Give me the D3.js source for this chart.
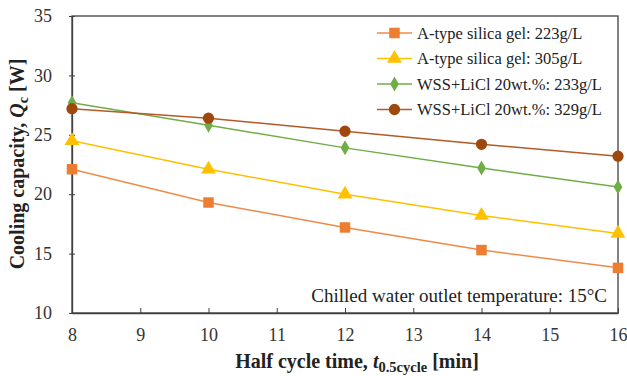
<!DOCTYPE html>
<html>
<head>
<meta charset="utf-8">
<script src="https://cdn.jsdelivr.net/npm/d3@7"></script>
<style>
  body { margin: 0; background: #fff; }
  svg text { font-family: "Liberation Serif", "Times New Roman", serif; }
</style>
</head>
<body>
<div id="svg-container"></div>
<script>
// chart data
const halfCycle = [8, 10, 12, 14, 16];
const seriesNames = [
  "A-type silica gel: 223g/L",
  "A-type silica gel: 305g/L",
  "WSS+LiCl 20wt.%: 233g/L",
  "WSS+LiCl 20wt.%: 329g/L"
];
const silica223 = [22.1, 19.3, 17.2, 15.3, 13.8];
const silica305 = [24.5, 22.1, 20.0, 18.2, 16.7];
const wss233 = [27.7, 25.8, 23.9, 22.2, 20.6];
const wss329 = [27.2, 26.4, 25.3, 24.2, 23.2];
const xTicks = [8, 9, 10, 11, 12, 13, 14, 15, 16];
const yTicks = [10, 15, 20, 25, 30, 35];

const width = 627, height = 376;
const margin = { top: 16, right: 9, bottom: 63, left: 72 };
const serif = "'Liberation Serif', 'Times New Roman', serif";

const svg = d3.select("#svg-container").append("svg")
  .attr("width", width).attr("height", height)
  .attr("font-family", serif);

const x = d3.scaleLinear().domain([8, 16]).range([margin.left, width - margin.right]);
const y = d3.scaleLinear().domain([10, 35]).range([height - margin.bottom, margin.top]);

const series = [
  { name: seriesNames[0], values: silica223, color: "#ED7D31", line: "#F08A48", shape: d3.symbolSquare, size: 110 },
  { name: seriesNames[1], values: silica305, color: "#FFC000", line: "#FFC000", shape: d3.symbolTriangle, size: 95 },
  { name: seriesNames[2], values: wss233, color: "#70AD47", line: "#70AD47", shape: d3.symbolDiamond, size: 65 },
  { name: seriesNames[3], values: wss329, color: "#9E480E", line: "#B35A26", shape: d3.symbolCircle, size: 100 }
];

// frame
svg.append("rect")
  .attr("x", margin.left).attr("y", margin.top)
  .attr("width", width - margin.left - margin.right)
  .attr("height", height - margin.top - margin.bottom)
  .attr("fill", "none").attr("stroke", "#404040").attr("stroke-width", 1.3);

// axes
const xAxis = svg.append("g")
  .attr("transform", `translate(0,${height - margin.bottom})`)
  .call(d3.axisBottom(x).tickValues(xTicks).tickSizeInner(-5).tickSizeOuter(0).tickPadding(15));
const yAxis = svg.append("g")
  .attr("transform", `translate(${margin.left},0)`)
  .call(d3.axisLeft(y).tickValues(yTicks).tickSizeInner(3).tickSizeOuter(0).tickPadding(17));

// y ticks cross the axis line
yAxis.selectAll(".tick line").attr("x1", 3).attr("x2", -3);

[xAxis, yAxis].forEach((g) => {
  g.attr("font-family", serif);
  g.select(".domain").attr("stroke", "#404040").attr("stroke-width", 1.3);
  g.selectAll(".tick line").attr("stroke", "#404040");
  g.selectAll(".tick text")
    .attr("fill", "#333")
    .style("font-size", "18px");
});

// lines and markers
const line = d3.line()
  .x((d, i) => x(halfCycle[i]))
  .y((d) => y(d));

series.forEach((s) => {
  svg.append("path")
    .datum(s.values)
    .attr("d", line)
    .attr("fill", "none")
    .attr("stroke", s.line)
    .attr("stroke-width", 1.5);

  svg.selectAll(null)
    .data(s.values)
    .enter()
    .append("path")
    .attr("transform", (d, i) => `translate(${x(halfCycle[i])},${y(d)})`)
    .attr("d", d3.symbol().type(s.shape).size(s.size))
    .attr("fill", s.color);
});

// legend
const legend = svg.append("g").attr("transform", "translate(377,33)");
series.forEach((s, i) => {
  const row = legend.append("g").attr("transform", `translate(0,${i * 25.5})`);
  row.append("line").attr("x1", 0).attr("x2", 35).attr("y1", 0).attr("y2", 0)
    .attr("stroke", s.line).attr("stroke-width", 1.5);
  row.append("path").attr("transform", "translate(17.5,0)")
    .attr("d", d3.symbol().type(s.shape).size(s.size))
    .attr("fill", s.color);
  row.append("text").attr("x", 40).attr("y", 5.5)
    .attr("fill", "#222").style("font-size", "16.5px")
    .text(s.name);
});

// annotation
svg.append("text")
  .attr("x", 607).attr("y", 302)
  .attr("text-anchor", "end")
  .attr("fill", "#222").style("font-size", "19px")
  .text("Chilled water outlet temperature: 15\u00B0C");

// axis titles
const xt = svg.append("text")
  .attr("x", 357).attr("y", 368)
  .attr("text-anchor", "middle")
  .attr("fill", "#222").style("font-size", "20px").style("font-weight", "bold");
xt.append("tspan").text("Half cycle time, ");
xt.append("tspan").style("font-style", "italic").text("t");
xt.append("tspan").attr("dy", 4).style("font-size", "14.5px").text("0.5cycle");
xt.append("tspan").attr("dy", -4).text(" [min]");

const yt = svg.append("text")
  .attr("transform", "translate(24,164) rotate(-90)")
  .attr("text-anchor", "middle")
  .attr("fill", "#222").style("font-size", "20px").style("font-weight", "bold");
yt.append("tspan").text("Cooling capacity, ");
yt.append("tspan").style("font-style", "italic").text("Q");
yt.append("tspan").attr("dy", 4).style("font-size", "14px").text("c");
yt.append("tspan").attr("dy", -4).text(" [W]");
</script>
</body>
</html>
